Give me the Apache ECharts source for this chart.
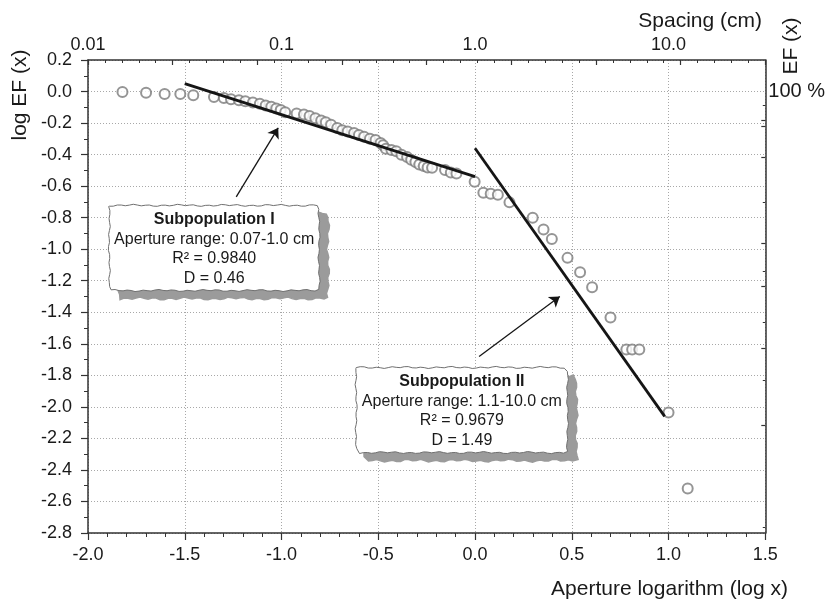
<!DOCTYPE html>
<html>
<head>
<meta charset="utf-8">
<script src="https://cdn.jsdelivr.net/npm/echarts@6/dist/echarts.min.js"></script>
<style>
  html, body { margin: 0; padding: 0; background: #fff; }
  #chart { width: 828px; height: 600px; }
</style>
</head>
<body>
<div id="chart"></div>
<script>
// Aperture logarithm (log x) and cumulative frequency logarithm (log EF(x)) of each fracture
const apertureLog = [
  -1.822, -1.700, -1.604, -1.523, -1.456, -1.349, -1.298, -1.261, -1.220, -1.187,
  -1.148, -1.112, -1.082, -1.053, -1.027, -1.004, -0.981, -0.922, -0.884, -0.855,
  -0.825, -0.795, -0.771, -0.744, -0.712, -0.686, -0.658, -0.625, -0.600, -0.573,
  -0.543, -0.514, -0.488, -0.475, -0.461, -0.432, -0.407, -0.380, -0.351, -0.330,
  -0.308, -0.288, -0.265, -0.245, -0.222, -0.155, -0.125, -0.096, -0.002, 0.043,
  0.081, 0.118, 0.178, 0.298, 0.354, 0.397, 0.478, 0.543, 0.605, 0.700,
  0.782, 0.812, 0.849, 1.000, 1.099
];
const logEF = [
  -0.003, -0.008, -0.015, -0.016, -0.023, -0.034, -0.041, -0.049, -0.055, -0.062,
  -0.070, -0.078, -0.088, -0.096, -0.107, -0.117, -0.131, -0.140, -0.145, -0.155,
  -0.170, -0.184, -0.195, -0.211, -0.232, -0.246, -0.253, -0.263, -0.275, -0.287,
  -0.300, -0.308, -0.326, -0.341, -0.363, -0.371, -0.379, -0.401, -0.416, -0.432,
  -0.447, -0.463, -0.472, -0.482, -0.484, -0.498, -0.513, -0.520, -0.572, -0.642,
  -0.649, -0.655, -0.703, -0.801, -0.875, -0.936, -1.055, -1.146, -1.241, -1.433,
  -1.636, -1.636, -1.636, -2.036, -2.518
];

// Fitted power-law segments (end points in log units)
const fitIx = [-1.5, 0.0];
const fitIy = [0.05, -0.54];
const fitIIx = [0.0, 0.98];
const fitIIy = [-0.36, -2.06];

// Top axis: spacing in cm at the decades of the aperture axis
const spacingTickValues = [-2, -1, 0, 1];
const spacingTickLabels = ['0.01', '0.1', '1.0', '10.0'];

// Right axis: EF(x) tick marks
const efMajorTicks = [-0.181, -0.222, -0.414, -0.964, -1.235, -1.630, -2.117];
const efMinorTicks = [-0.086, -0.700, -1.140, -1.462, -1.832, -2.763];
const efLabelValues = [0];
const efLabelTexts = ['100 %'];

// Annotation texts
const subpopI = ['Subpopulation I', 'Aperture range: 0.07-1.0 cm', 'R\u00B2 = 0.9840', 'D = 0.46'];
const subpopII = ['Subpopulation II', 'Aperture range: 1.1-10.0 cm', 'R\u00B2 = 0.9679', 'D = 1.49'];

const FONT = '"Liberation Sans", Arial, Helvetica, sans-serif';
const INK = '#1a1a1a';
const AXIS = '#333';
const GRID = '#a8a8a8';

const zip = (a, b) => a.map((v, i) => [v, b[i]]);
const fmt1 = v => (Math.abs(v) < 1e-9 ? 0 : v).toFixed(1);

const chart = echarts.init(document.getElementById('chart'), null, { renderer: 'canvas' });

const baseAxisLine = { show: true, onZero: false, lineStyle: { color: AXIS, width: 1.5 } };
const noAxisLine = { show: false, onZero: false };
const gridLine = { show: true, lineStyle: { color: GRID, width: 1, type: [1, 2] } };

chart.setOption({
  animation: false,
  backgroundColor: '#fff',
  grid: { left: 88, right: 60, top: 60, bottom: 67, containLabel: false },
  xAxis: [
    {
      type: 'value', position: 'bottom', min: -2, max: 1.5, interval: 0.5,
      axisLine: baseAxisLine,
      axisTick: { show: true, inside: false, length: 7, lineStyle: { color: AXIS, width: 1.2 } },
      minorTick: { show: true, splitNumber: 5, length: 4, lineStyle: { color: AXIS, width: 1 } },
      axisLabel: { show: true, margin: 13, fontSize: 18, fontFamily: FONT, color: INK, formatter: fmt1 },
      splitLine: gridLine
    },
    {
      type: 'value', position: 'top', min: -2, max: 1.5, interval: 1,
      axisLine: noAxisLine, axisTick: { show: false },
      axisLabel: {
        show: true, margin: 6, fontSize: 18, fontFamily: FONT, color: INK,
        formatter: v => {
          const i = spacingTickValues.findIndex(t => Math.abs(t - v) < 1e-9);
          return i >= 0 ? spacingTickLabels[i] : '';
        }
      },
      splitLine: { show: false }
    },
    {
      type: 'value', position: 'top', min: 0, max: 8, interval: 1,
      axisLine: baseAxisLine,
      axisTick: { show: true, inside: true, length: 5, lineStyle: { color: AXIS, width: 1.2 } },
      minorTick: { show: true, splitNumber: 5, length: 3, lineStyle: { color: AXIS, width: 1 } },
      axisLabel: { show: false },
      splitLine: { show: false }
    }
  ],
  yAxis: [
    {
      type: 'value', position: 'left', min: -2.8, max: 0.2, interval: 0.2,
      axisLine: baseAxisLine,
      axisTick: { show: true, inside: false, length: 7, lineStyle: { color: AXIS, width: 1.2 } },
      minorTick: { show: true, splitNumber: 2, length: 4, lineStyle: { color: AXIS, width: 1 } },
      axisLabel: { show: true, margin: 16, fontSize: 18, fontFamily: FONT, color: INK, formatter: fmt1 },
      splitLine: gridLine
    },
    {
      type: 'value', position: 'right', min: -2.8, max: 0.2,
      axisLine: baseAxisLine,
      axisTick: { show: true, inside: true, length: 4, customValues: efMajorTicks, lineStyle: { color: AXIS, width: 1.2 } },
      axisLabel: {
        show: true, margin: 3, fontSize: 20, fontFamily: FONT, color: INK,
        customValues: efLabelValues,
        formatter: v => {
          const i = efLabelValues.findIndex(t => Math.abs(t - v) < 1e-9);
          return i >= 0 ? efLabelTexts[i] : '';
        }
      },
      splitLine: { show: false }
    },
    {
      type: 'value', position: 'right', min: -2.8, max: 0.2,
      axisLine: noAxisLine,
      axisTick: { show: true, inside: true, length: 2.5, customValues: efMinorTicks, lineStyle: { color: AXIS, width: 1 } },
      axisLabel: { show: false },
      splitLine: { show: false }
    }
  ],
  series: [
    {
      name: 'fractures', type: 'scatter', xAxisIndex: 0, yAxisIndex: 0,
      data: zip(apertureLog, logEF),
      symbol: 'emptyCircle', symbolSize: 10,
      itemStyle: { color: '#7a7a7a', borderWidth: 1.1 },
      z: 2
    },
    {
      name: 'Subpopulation I fit', type: 'line', xAxisIndex: 0, yAxisIndex: 0,
      data: zip(fitIx, fitIy), showSymbol: false,
      lineStyle: { color: '#151515', width: 2.8 }, z: 3
    },
    {
      name: 'Subpopulation II fit', type: 'line', xAxisIndex: 0, yAxisIndex: 0,
      data: zip(fitIIx, fitIIy), showSymbol: false,
      lineStyle: { color: '#151515', width: 2.8 }, z: 3
    },
    {
      name: 'pointers', type: 'lines', coordinateSystem: 'cartesian2d', xAxisIndex: 0, yAxisIndex: 0,
      symbol: ['none', 'arrow'], symbolSize: 10,
      lineStyle: { color: '#151515', width: 1.3, curveness: 0, opacity: 1 },
      data: [
        { coords: [[-1.234, -0.668], [-1.017, -0.230]] },
        { coords: [[0.021, -1.680], [0.438, -1.300]] }
      ],
      z: 4
    }
  ]
});

// Rough hand-drawn rectangle outline
function roughRect(x, y, w, h, amp, seed) {
  const pts = [];
  const step = 4;
  const j = i => amp * (0.6 * Math.sin(i * 1.7 + seed) + 0.4 * Math.sin(i * 0.53 + seed * 2.3));
  let k = 0;
  for (let t = 0; t <= w; t += step) pts.push([x + t, y + j(k++)]);
  for (let t = step; t <= h; t += step) pts.push([x + w + j(k++), y + t]);
  for (let t = w - step; t >= 0; t -= step) pts.push([x + t, y + h + j(k++)]);
  for (let t = h - step; t > 0; t -= step) pts.push([x + j(k++), y + t]);
  return pts;
}

function noteBox(topLeft, bottomRight, lines, seed) {
  const p0 = chart.convertToPixel({ xAxisIndex: 0, yAxisIndex: 0 }, topLeft);
  const p1 = chart.convertToPixel({ xAxisIndex: 0, yAxisIndex: 0 }, bottomRight);
  const x = p0[0], y = p0[1], w = p1[0] - p0[0], h = p1[1] - p0[1];
  const cx = x + w / 2;
  const offsets = [14, 34, 53, 73];
  const els = [
    { type: 'polygon', z: 100, shape: { points: roughRect(x + 9, y + 8, w, h, 1.6, seed + 1) },
      style: { fill: '#9b9b9b', stroke: '#9b9b9b', lineWidth: 1.5 } },
    { type: 'polygon', z: 101, shape: { points: roughRect(x, y, w, h, 1.1, seed) },
      style: { fill: '#ffffff', stroke: '#707070', lineWidth: 1 } }
  ];
  lines.forEach((t, i) => {
    els.push({
      type: 'text', z: 102,
      style: {
        text: t, x: cx, y: y + offsets[i], align: 'center', verticalAlign: 'middle',
        font: (i === 0 ? 'bold ' : '') + '16px ' + FONT, fill: INK
      }
    });
  });
  return els;
}

const graphics = [].concat(
  noteBox([-1.890, -0.722], [-0.806, -1.262], subpopI, 0.7),
  noteBox([-0.614, -1.750], [0.478, -2.290], subpopII, 2.1),
  [
    { type: 'text', z: 102, x: 20, y: 95, rotation: Math.PI / 2,
      style: { text: 'log EF (x)', align: 'center', verticalAlign: 'middle', font: '21px ' + FONT, fill: INK } },
    { type: 'text', z: 102,
      style: { text: 'Aperture logarithm (log x)', x: 788, y: 589, align: 'right', verticalAlign: 'middle', font: '21px ' + FONT, fill: INK } },
    { type: 'text', z: 102,
      style: { text: 'Spacing (cm)', x: 762, y: 21, align: 'right', verticalAlign: 'middle', font: '21px ' + FONT, fill: INK } },
    { type: 'text', z: 102, x: 791, y: 46, rotation: Math.PI / 2,
      style: { text: 'EF (x)', align: 'center', verticalAlign: 'middle', font: '21px ' + FONT, fill: INK } }
  ]
);

chart.setOption({ graphic: graphics });
</script>
</body>
</html>
